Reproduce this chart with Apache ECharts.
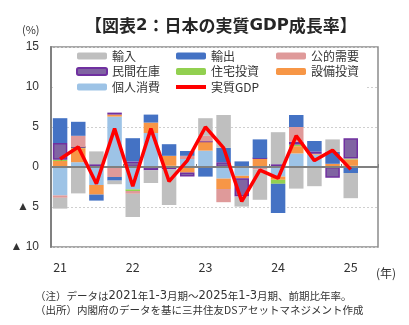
<!DOCTYPE html>
<html><head><meta charset="utf-8">
<script src="https://cdn.jsdelivr.net/npm/echarts@6/dist/echarts.min.js"></script>
<style>html,body{margin:0;padding:0;background:#fff}#c{width:409px;height:325px}</style>
</head><body><div id="c"></div>
<script>
// 2021Q1 ... 2025Q1 (+ one empty slot at the right edge)
const categories = ['2021Q1','2021Q2','2021Q3','2021Q4','2022Q1','2022Q2','2022Q3','2022Q4','2023Q1','2023Q2','2023Q3','2023Q4','2024Q1','2024Q2','2024Q3','2024Q4','2025Q1','2025Q2'];
const yearLabels = ['21','','','','22','','','','23','','','','24','','','','25',''];

const consumption = [-3.55, 0.6, -2.25, 6.3, -2.8, 4.25, 0.15, 1.0, 2.05, -1.45, -1.1, 0, -1.2, 1.7, 1.55, 0, 0.15, null];
const capex       = [0.75, 1.75, -1.2, 0.25, 0, 1.3, 1.25, -0.7, 1.15, -1.3, -0.3, 1.1, -0.4, 0.9, 0.1, 0.4, 0.8, null];
const housing     = [0.15, 0.15, 0, 0, -0.2, 0, 0, 0, 0, 0, 0, 0, -0.5, 0.2, 0, 0, 0.1, null];
const inventory   = [2.1, 0, 0.35, 0.25, 0.7, -0.4, -0.3, -0.5, 0, 0.6, -2.3, 0, 0.35, 0.35, 0.3, -1.35, 2.55, null];
const publicDemand= [-0.3, 1.4, 0, -1.25, -0.35, 0, 0, 0.4, 0.7, -1.65, 0, -0.3, 0, 1.85, 0, 0, 0, null];
const exportsC    = [3.1, 1.75, -0.75, -0.45, 2.9, 1.0, 1.45, 0.6, -1.2, 1.8, 0.7, 2.35, -3.65, 1.5, 1.3, 1.5, -0.75, null];
const importsC    = [-1.35, -3.3, 1.6, -0.45, -2.9, -1.6, -4.45, 0, 2.2, 4.1, -1.25, -3.8, 4.0, -2.7, -2.4, 1.55, -3.15, null];
const realGDP     = [1.0, 2.5, -2.1, 4.8, -2.4, 4.8, -1.8, 0.8, 5.0, 2.4, -4.3, -0.4, -1.4, 3.9, 0.8, 2.1, -0.3, null];

const yTicks = [-10, -5, 0, 5, 10, 15];

const FONT = '"Noto Sans CJK JP", "Noto Sans", sans-serif';
const LATIN = '"Liberation Sans", "DejaVu Sans", sans-serif';
const chart = echarts.init(document.getElementById('c'), null, {renderer: 'canvas'});

function bar(name, data, color, extra) {
  return Object.assign({
    name, type: 'bar', stack: 'total', data, barWidth: 14.5,
    itemStyle: {color}, z: 2
  }, extra || {});
}

const legendBase = {
  orient: 'vertical', itemWidth: 30, itemHeight: 7, itemGap: 3.5, padding: 0,
  textStyle: {fontFamily: FONT, fontSize: 12, color: '#333'},
  selectedMode: false, z: 5
};

chart.setOption({
  animation: false,
  backgroundColor: '#fff',
  title: {
    text: '【図表{a|2}：日本の実質{a|GDP}成長率】', left: 80, top: 12,
    textStyle: {fontFamily: FONT, fontSize: 17, fontWeight: 'bold', color: '#262626',
      rich: {a: {fontFamily: '"DejaVu Sans", sans-serif', fontWeight: 'bold', fontSize: 16.5, color: '#262626'}}}
  },
  grid: {left: 51, right: 31, top: 47, bottom: 78, show: true, borderColor: '#8c8c8c', borderWidth: 1.5},
  legend: [
    Object.assign({left: 76, top: 50, data: ['輸入', '民間在庫', '個人消費']}, legendBase),
    Object.assign({left: 176, top: 50, data: ['輸出', '住宅投資']}, legendBase),
    Object.assign({left: 276, top: 50, data: ['公的需要', '設備投資']}, legendBase),
    Object.assign({}, legendBase, {left: 176, top: 81, itemHeight: 4, data: [{name: '実質GDP', icon: 'rect'}]})
  ],
  xAxis: [
    {
      type: 'category', data: categories, boundaryGap: true,
      axisLine: {onZero: true, lineStyle: {color: '#808080', width: 2}},
      axisTick: {show: true, inside: true, length: 3, lineStyle: {color: '#808080', width: 1}},
      axisLabel: {show: false}, splitLine: {show: false}, z: 3
    },
    {
      type: 'category', data: categories, position: 'bottom', boundaryGap: true,
      axisLine: {show: false, onZero: false}, axisTick: {show: false},
      axisLabel: {interval: 0, margin: 14, fontFamily: FONT, fontSize: 12.5, color: '#333',
        formatter: (v, i) => yearLabels[i]},
      splitLine: {show: false}
    }
  ],
  yAxis: {
    type: 'value', min: yTicks[0], max: yTicks[yTicks.length - 1], interval: 5,
    axisLine: {show: true, lineStyle: {color: '#808080', width: 2}},
    axisTick: {show: false},
    axisLabel: {margin: 12, fontFamily: LATIN, fontSize: 12, color: '#333',
      formatter: v => v < 0 ? '▲ ' + (-v) : String(v)},
    splitLine: {show: true, lineStyle: {color: '#cfcfcf', type: [2, 2], width: 1}}
  },
  graphic: [
    {type: 'rect', shape: {x: 55, y: 48, width: 310, height: 46}, style: {fill: '#fff'}, z: 3, silent: true},
    {type: 'text', left: 22, top: 24, style: {text: '(%)', font: '11px ' + FONT, fill: '#333'}},
    {type: 'text', left: 376, top: 267, style: {text: '(年)', font: '12px ' + FONT, fill: '#333'}},
    {type: 'text', left: 35, top: 290, style: {
      text: '（注）データは{n|2021}年{n|1-3}月期～{n|2025}年{n|1-3}月期、前期比年率。',
      font: '10.5px ' + FONT, fill: '#333',
      rich: {n: {fontFamily: '"DejaVu Sans", sans-serif', fontSize: 11.5, fill: '#333'}}}},
    {type: 'text', left: 35, top: 305, style: {text: '（出所）内閣府のデータを基に三井住友DSアセットマネジメント作成', font: '10.5px ' + FONT, fill: '#333'}}
  ],
  series: [
    bar('個人消費', consumption, '#9DC3E6'),
    bar('設備投資', capex, '#F79646'),
    bar('住宅投資', housing, '#92D050'),
    bar('民間在庫', inventory, '#8064A2', {itemStyle: {color: '#8064A2', borderColor: '#7030A0', borderWidth: 1.5}}),
    bar('公的需要', publicDemand, '#DF9A9A'),
    bar('輸出', exportsC, '#4472C4'),
    bar('輸入', importsC, '#BFBFBF'),
    {name: '実質GDP', type: 'line', data: realGDP, symbol: 'none', z: 4,
      lineStyle: {color: '#FF0000', width: 3.5}, itemStyle: {color: '#FF0000'}}
  ]
});
</script>
</body></html>
